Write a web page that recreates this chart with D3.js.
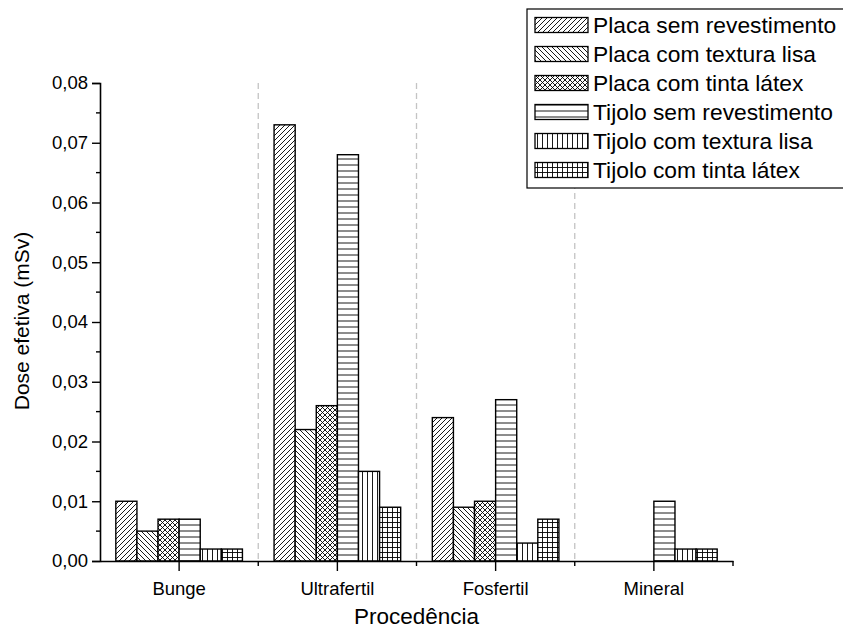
<!DOCTYPE html>
<html>
<head>
<meta charset="utf-8">
<script src="https://cdn.jsdelivr.net/npm/d3@7"></script>
<style>
  html, body { margin: 0; padding: 0; background: #fff; }
  svg { display: block; font-family: "Liberation Sans", Arial, sans-serif; }
</style>
</head>
<body>
<svg id="chart" width="843" height="631"></svg>
<script>
// Effective dose per origin and wall finish
const categories = ["Bunge", "Ultrafertil", "Fosfertil", "Mineral"];
const seriesNames = [
  "Placa sem revestimento",
  "Placa com textura lisa",
  "Placa com tinta látex",
  "Tijolo sem revestimento",
  "Tijolo com textura lisa",
  "Tijolo com tinta látex"
];
const placaSemRevestimento = [0.010, 0.073, 0.024, null];
const placaTexturaLisa     = [0.005, 0.022, 0.009, null];
const placaTintaLatex      = [0.007, 0.026, 0.010, null];
const tijoloSemRevestimento = [0.007, 0.068, 0.027, 0.010];
const tijoloTexturaLisa    = [0.002, 0.015, 0.003, 0.002];
const tijoloTintaLatex     = [0.002, 0.009, 0.007, 0.002];
const yTicks = [0, 0.01, 0.02, 0.03, 0.04, 0.05, 0.06, 0.07, 0.08];
const yTickLabels = ["0,00", "0,01", "0,02", "0,03", "0,04", "0,05", "0,06", "0,07", "0,08"];

const seriesValues = [placaSemRevestimento, placaTexturaLisa, placaTintaLatex,
                      tijoloSemRevestimento, tijoloTexturaLisa, tijoloTintaLatex];
const patternIds = ["p-fwd", "p-back", "p-cross", "p-horiz", "p-vert", "p-grid"];

const svg = d3.select("#chart");
const plotLeft = 100, plotRight = 733, plotTop = 83, plotBottom = 561;

// hatch patterns
const defs = svg.append("defs");
function pattern(id, size, draw) {
  const p = defs.append("pattern").attr("id", id)
    .attr("patternUnits", "userSpaceOnUse")
    .attr("width", size).attr("height", size);
  p.append("rect").attr("width", size).attr("height", size).attr("fill", "#fff");
  draw(p, size);
}
const hs = "#000", hw = 0.9;
pattern("p-fwd", 5, (p, s) => {
  p.append("path").attr("d", `M0,${s} L${s},0 M${-s/2},${s/2} L${s/2},${-s/2} M${s/2},${s*1.5} L${s*1.5},${s/2}`)
    .attr("stroke", hs).attr("stroke-width", hw);
});
pattern("p-back", 5, (p, s) => {
  p.append("path").attr("d", `M0,0 L${s},${s} M${-s/2},${s/2} L${s/2},${s*1.5} M${s/2},${-s/2} L${s*1.5},${s/2}`)
    .attr("stroke", hs).attr("stroke-width", hw);
});
pattern("p-cross", 5, (p, s) => {
  p.append("path").attr("d", `M0,${s} L${s},0 M${-s/2},${s/2} L${s/2},${-s/2} M${s/2},${s*1.5} L${s*1.5},${s/2} M0,0 L${s},${s} M${-s/2},${s/2} L${s/2},${s*1.5} M${s/2},${-s/2} L${s*1.5},${s/2}`)
    .attr("stroke", hs).attr("stroke-width", hw);
});
pattern("p-horiz", 6, (p, s) => {
  p.append("path").attr("d", `M0,${s/2} L${s},${s/2}`).attr("stroke", hs).attr("stroke-width", hw);
});
pattern("p-vert", 5, (p, s) => {
  p.append("path").attr("d", `M${s/2},0 L${s/2},${s}`).attr("stroke", hs).attr("stroke-width", hw);
});
pattern("p-grid", 5, (p, s) => {
  p.append("path").attr("d", `M${s/2},0 L${s/2},${s} M0,${s/2} L${s},${s/2}`).attr("stroke", hs).attr("stroke-width", hw);
});

// scales
const x = d3.scaleBand().domain(categories).range([plotLeft, plotRight]).paddingInner(0).paddingOuter(0);
const xs = d3.scaleBand().domain(d3.range(seriesNames.length))
  .range([x.bandwidth() * 0.1, x.bandwidth() * 0.9]).padding(0);
const y = d3.scaleLinear().domain([0, 0.08]).range([plotBottom, plotTop]);

// dashed separators between origins
const seps = categories.slice(1).map(c => x(c));
svg.append("g").selectAll("line").data(seps).join("line")
  .attr("x1", d => d).attr("x2", d => d)
  .attr("y1", plotTop).attr("y2", plotBottom)
  .attr("stroke", "#c4c4c4").attr("stroke-width", 1.3)
  .attr("stroke-dasharray", "6,4");

// bars
const barsG = svg.append("g");
seriesValues.forEach((vals, si) => {
  barsG.append("g").selectAll("rect")
    .data(categories.map((c, ci) => ({ c, v: vals[ci] })).filter(d => d.v != null))
    .join("rect")
    .attr("x", d => x(d.c) + xs(si))
    .attr("width", xs.bandwidth())
    .attr("y", d => y(d.v))
    .attr("height", d => y(0) - y(d.v))
    .attr("fill", `url(#${patternIds[si]})`)
    .attr("stroke", "#000").attr("stroke-width", 1.4);
});

// y axis
const yAxis = svg.append("g").attr("transform", `translate(${plotLeft},0)`);
yAxis.call(d3.axisLeft(y).tickValues(yTicks).tickFormat((d, i) => yTickLabels[i]).tickSize(8).tickPadding(4))
  .call(g => g.select(".domain").attr("stroke-width", 1.6))
  .call(g => g.selectAll(".tick line").attr("stroke-width", 1.4))
  .call(g => g.selectAll("text").attr("font-size", 18.5).attr("fill", "#000")
    .attr("font-family", "Liberation Sans, Arial, sans-serif"));
const yMinor = d3.range(0.005, 0.08, 0.01);
yAxis.append("g").selectAll("line").data(yMinor).join("line")
  .attr("x1", 0).attr("x2", -4).attr("y1", d => y(d)).attr("y2", d => y(d))
  .attr("stroke", "#000").attr("stroke-width", 1.4);

// x axis
const xAxis = svg.append("g").attr("transform", `translate(0,${plotBottom})`);
xAxis.call(d3.axisBottom(x).tickSize(10).tickPadding(11).tickSizeOuter(0))
  .call(g => g.select(".domain").attr("stroke-width", 1.6))
  .call(g => g.selectAll(".tick line").attr("stroke-width", 1.4))
  .call(g => g.selectAll("text").attr("font-size", 18.5).attr("fill", "#000")
    .attr("font-family", "Liberation Sans, Arial, sans-serif"));
const xMinor = categories.map(c => x(c) + x.bandwidth());
xAxis.append("g").selectAll("line").data(xMinor).join("line")
  .attr("x1", d => d).attr("x2", d => d).attr("y1", 0).attr("y2", 5)
  .attr("stroke", "#000").attr("stroke-width", 1.4);

// axis titles
svg.append("text").attr("x", (plotLeft + plotRight) / 2).attr("y", 624)
  .attr("text-anchor", "middle").attr("font-size", 22.5).text("Procedência");
svg.append("text").attr("transform", `translate(29,${(plotTop + plotBottom) / 2 - 1}) rotate(-90)`)
  .attr("text-anchor", "middle").attr("font-size", 21).text("Dose efetiva (mSv)");

// legend
const lg = svg.append("g");
lg.append("rect").attr("x", 527).attr("y", 9).attr("width", 320).attr("height", 179)
  .attr("fill", "#fff").attr("stroke", "#000").attr("stroke-width", 1.2);
const rowH = 29;
seriesNames.forEach((name, i) => {
  const cy = 25 + i * rowH;
  lg.append("rect").attr("x", 535).attr("y", cy - 7.5).attr("width", 53).attr("height", 15)
    .attr("fill", `url(#${patternIds[i]})`).attr("stroke", "#000").attr("stroke-width", 1.3);
  lg.append("text").attr("x", 593).attr("y", cy).attr("dy", "0.36em")
    .attr("font-size", 22.8).text(name);
});
</script>
</body>
</html>
